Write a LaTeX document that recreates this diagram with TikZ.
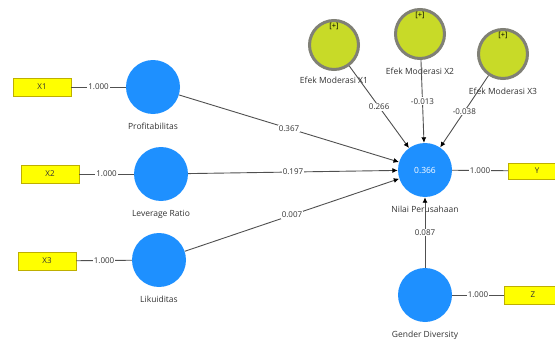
\documentclass[tikz,border=0pt]{standalone}
\usepackage{fontspec}
\setmainfont{Open Sans}
\usetikzlibrary{arrows.meta,positioning}

\definecolor{latblue}{RGB}{30,144,255}
\definecolor{modfill}{RGB}{200,218,40}
\definecolor{modedge}{RGB}{128,128,118}
\definecolor{indfill}{RGB}{255,255,0}
\definecolor{indedge}{RGB}{190,175,0}
\definecolor{linegray}{RGB}{80,80,80}

\tikzset{
  latent/.style={circle,fill=latblue,minimum size=54pt,inner sep=0pt},
  moder/.style={circle,fill=modfill,draw=modedge,line width=3pt,minimum size=49pt,inner sep=0pt},
  plusmark/.style={inner sep=0pt,font=\fontsize{7.5}{8}\selectfont},
  indic/.style={rectangle,fill=indfill,draw=indedge,line width=0.5pt,minimum width=58pt,minimum height=18pt,inner sep=0pt,font=\fontsize{8}{9}\selectfont,text=black!80},
  lbl/.style={inner sep=1pt,font=\fontsize{8.5}{10}\selectfont,text=black!80},
  coef/.style={fill=white,inner sep=1pt,font=\fontsize{8}{9}\selectfont,text=black!80},
  loadline/.style={draw=linegray,line width=0.9pt},
  structline/.style={draw=linegray,line width=0.9pt,-{Latex[length=5.5pt,width=5pt,black]}},
}

\begin{document}
\begin{tikzpicture}[x=1pt,y=-1pt]
  \useasboundingbox (0,0) rectangle (555,340);
  \clip (0,0) rectangle (555,340);
  \fill[white] (0,0) rectangle (555,340);

  % latent variables
  \node[latent] (prof) at (153,87) {};
  \node[latent] (lev) at (161,174) {};
  \node[latent] (liq) at (159,260) {};
  \node[latent,text=white,font=\fontsize{8.5}{10}\selectfont] (nilai) at (425,170) {0.366};
  \node[latent] (gend) at (425,295) {};

  % moderating effects
  \node[moder] (em1) at (334,45) {};
  \node[moder] (em2) at (420,34) {};
  \node[moder] (em3) at (503,54) {};
  \foreach \m in {em1,em2,em3}
    \node[plusmark,below=4pt of \m.north] (\m-plus) {[+]};

  % indicators
  \node[indic] (x1) at (42,87) {X1};
  \node[indic] (x2) at (50,174) {X2};
  \node[indic] (x3) at (47,261) {X3};
  \node[indic,minimum height=16pt] (yind) at (537,171) {Y};
  \node[indic] (zind) at (533,295) {Z};

  % names
  \node[lbl,below=8pt of prof] (prof-l) {Profitabilitas};
  \node[lbl,below=8pt of lev] (lev-l) {Leverage Ratio};
  \node[lbl,below=8pt of liq] (liq-l) {Likuiditas};
  \node[lbl,below=8pt of nilai] (nilai-l) {Nilai Perusahaan};
  \node[lbl,below=8pt of gend] (gend-l) {Gender Diversity};
  \node[lbl,below=5pt of em1] (em1-l) {Efek Moderasi X1};
  \node[lbl,below=7pt of em2] (em2-l) {Efek Moderasi X2};
  \node[lbl,below=7pt of em3] (em3-l) {Efek Moderasi X3};

  % paths
  \foreach \src/\val in {prof/0.367, lev/0.197, liq/0.007, em1/0.266, em2/-0.013, em3/-0.038, gend/0.087}
    \draw[structline] (\src) -- node[coef] (c-\src) {\val} (nilai);

  % loadings
  \foreach \ind/\lat in {x1/prof, x2/lev, x3/liq, yind/nilai, zind/gend}
    \draw[loadline] (\ind) -- node[coef] (c-\ind) {1.000} (\lat);
\end{tikzpicture}
\end{document}
